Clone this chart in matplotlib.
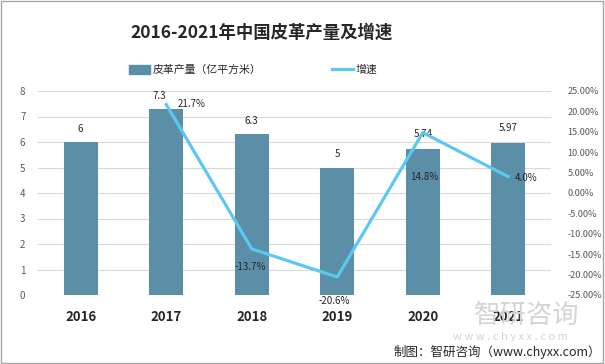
import numpy as np
import matplotlib.pyplot as plt
from matplotlib.patches import Rectangle
from matplotlib.lines import Line2D

plt.rcParams['font.family'] = ['Noto Sans CJK SC', 'DejaVu Sans']

years = ['2016', '2017', '2018', '2019', '2020', '2021']
output = [6, 7.3, 6.3, 5, 5.74, 5.97]
output_labels = ['6', '7.3', '6.3', '5', '5.74', '5.97']
growth = [None, 21.7, -13.7, -20.6, 14.8, 4.0]
growth_labels = ['', '21.7%', '-13.7%', '-20.6%', '14.8%', '4.0%']

bar_color = '#5b8fa7'
line_color = '#5cc8f2'
grey = '#595959'

fig = plt.figure(figsize=(6.05, 3.64), dpi=100)

# watermark behind everything
fig.text(527 / 605, 1 - 315 / 364, '智研咨询', fontsize=19, color='#d4d4d4',
         ha='center', va='center', zorder=0)
fig.text(510 / 605, 1 - 337 / 364, 'w w w . c h y x x . c o m', fontsize=8, color='#d4d4d4',
         ha='center', va='center', zorder=0)

ax = fig.add_axes([38 / 605, 1 - 295 / 364, 513 / 605, 204 / 364])
ax.patch.set_alpha(0)

x = np.arange(len(years))
ax.bar(x, output, width=0.4, color=bar_color, zorder=2)
ax.set_xlim(-0.5, len(years) - 0.5)
ax.set_ylim(0, 8)
ax.set_yticks(range(0, 9))
ax.grid(axis='y', color='#d9d9d9', linewidth=0.8, zorder=0)
for s in ax.spines.values():
    s.set_visible(False)
ax.tick_params(axis='y', length=0, labelsize=7, labelcolor=grey, pad=9)
ax.tick_params(axis='x', length=0, pad=11)
ax.set_xticks(x)
ax.set_xticklabels(years, fontsize=9.5, fontweight='bold', color='#262626')

# bar value labels (offsets in points)
bar_offsets = [(0, 6), (-5, 6), (0, 6), (0, 6), (0, 7), (0, 7)]
for i, v in enumerate(output):
    ax.annotate(output_labels[i], (x[i], v), xytext=bar_offsets[i],
                textcoords='offset points', ha='center', va='bottom',
                fontsize=7, color='#262626')

ax2 = ax.twinx()
gx = [i for i, g in enumerate(growth) if g is not None]
gy = [g for g in growth if g is not None]
ax2.plot(gx, gy, color=line_color, linewidth=2.3, zorder=3)
ax2.set_ylim(-25, 25)
ax2.set_yticks(np.arange(-25, 26, 5))
ax2.set_yticklabels([f'{t:.2f}%' for t in np.arange(-25, 26, 5)])
ax2.tick_params(axis='y', length=0, labelsize=6.6, labelcolor=grey, pad=12)
for s in ax2.spines.values():
    s.set_visible(False)

line_offsets = {1: (8, 0, 'left'), 2: (-1, -13, 'center'), 3: (-2, -17, 'center'),
                4: (1, -32, 'center'), 5: (5, -1, 'left')}
for i, (dx, dy, ha) in line_offsets.items():
    ax2.annotate(growth_labels[i], (x[i], growth[i]), xytext=(dx, dy),
                 textcoords='offset points', ha=ha, va='center',
                 fontsize=7, color='#262626')

fig.text(262 / 605, 1 - 33 / 364, '2016-2021年中国皮革产量及增速', ha='center', va='center',
         fontsize=12.5, fontweight='bold', color='#262626')

handles = [Rectangle((0, 0), 1, 1, color=bar_color),
           Line2D([0], [0], color=line_color, linewidth=2.3)]
fig.legend(handles, ['皮革产量（亿平方米）', '增速'], loc='center',
           bbox_to_anchor=(253 / 605, 1 - 70 / 364), ncol=2, frameon=False,
           fontsize=7.8, handlelength=2.0, handleheight=0.8,
           columnspacing=6.5, handletextpad=0.2, labelcolor='#262626')

fig.text(0.993, 1 - 352 / 364, '制图：智研咨询（www.chyxx.com）', ha='right', va='center',
         fontsize=9, color='#262626')

fig.patches.append(Rectangle((0.002, 0.003), 0.995, 0.994, transform=fig.transFigure,
                             fill=False, edgecolor='#a6a6a6', linewidth=1))

fig.savefig('out.png', dpi=100)
